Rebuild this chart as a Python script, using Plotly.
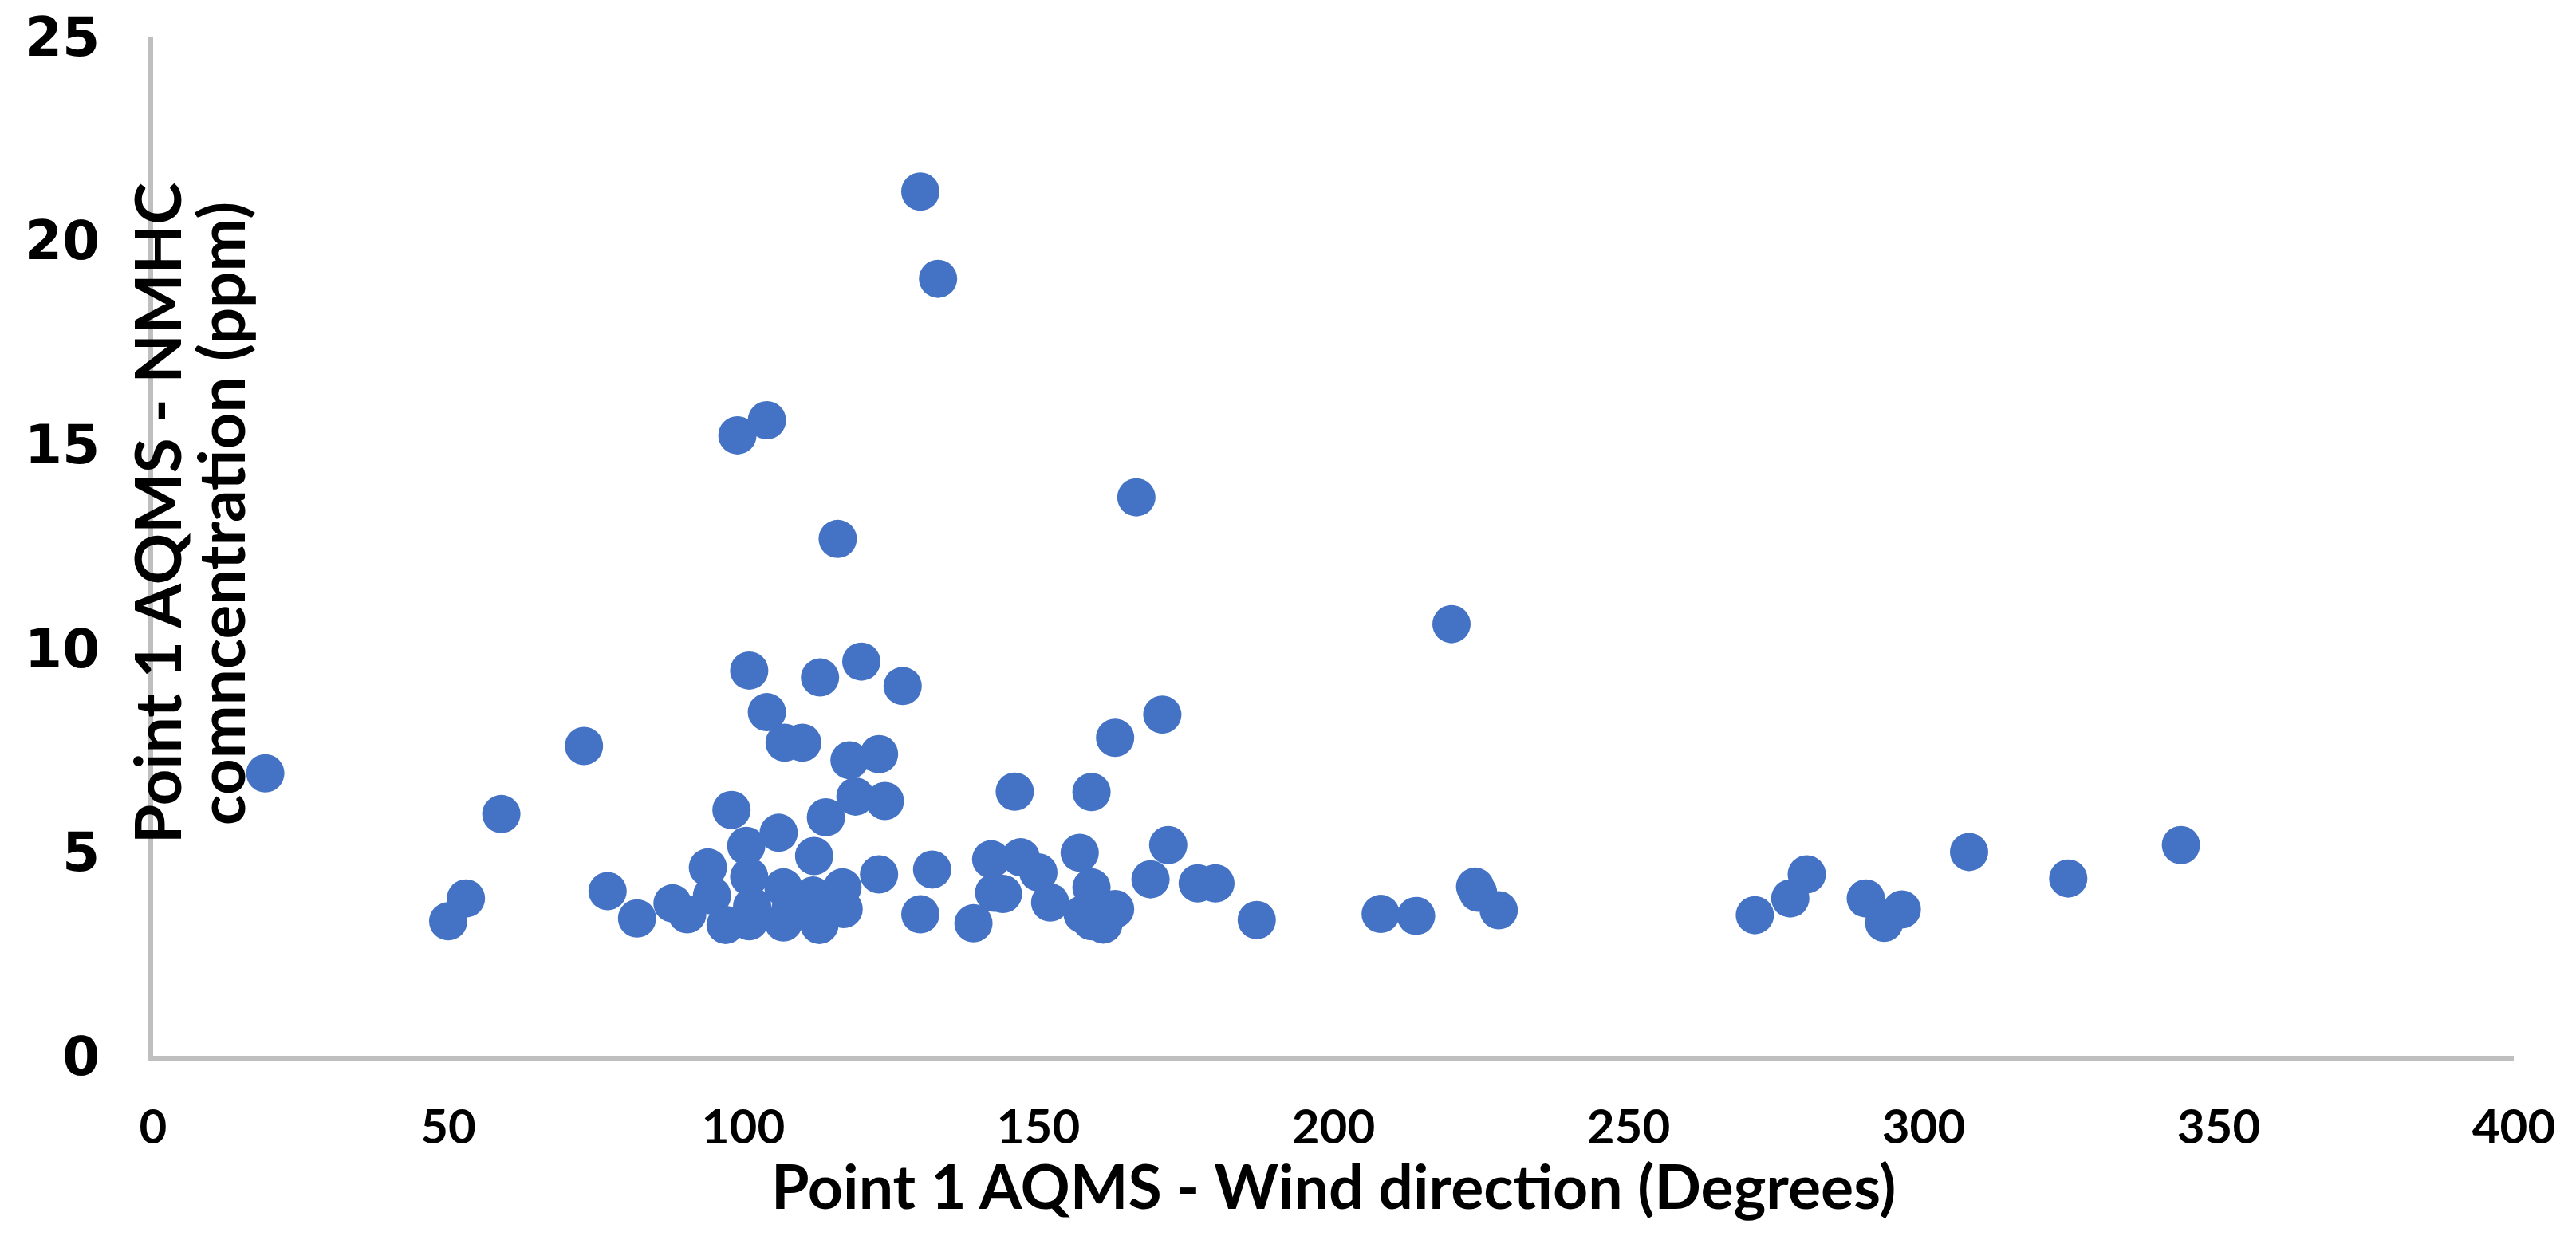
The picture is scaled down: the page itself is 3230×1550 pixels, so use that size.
import plotly.graph_objects as go

# Point 1 AQMS - wind direction (deg) vs NMHC (ppm)
wind_dir = [
    19, 50, 53, 59, 73, 77, 82, 88, 90.5, 94, 94.7, 97, 98, 99, 100.5,
    101, 101, 101, 101.5, 104, 104, 106, 106.8, 106.8, 107, 108, 110,
    111.8, 112, 112.9, 113, 114, 116, 116.8, 117, 118, 119, 120, 123,
    123, 124, 127, 130, 130, 132, 133, 139, 142, 142.5, 144, 146, 147,
    150, 152, 157, 157.5, 159, 159, 159, 161, 163, 163, 166.6, 169, 171,
    172, 177, 180, 187, 208, 214, 220, 224, 224.5, 228, 271.4, 277.4,
    280.2, 290.2, 293.3, 296.3, 307.7, 324.5, 343.6,
]
nmhc = [
    6.93, 3.30, 3.86, 5.93, 7.60, 4.04, 3.37, 3.74, 3.47, 4.62, 3.93, 3.21, 6.03, 15.22, 5.15,
    9.45, 3.30, 4.39, 3.67, 15.59, 8.43, 5.47, 4.13, 3.27, 7.68, 3.60, 7.68,
    3.93, 4.90, 3.21, 9.28, 5.85, 12.68, 4.13, 3.60, 7.25, 6.36, 9.67, 7.40,
    4.45, 6.25, 9.07, 21.2, 3.47, 4.57, 19.06, 3.25, 4.82, 4.0, 3.97, 6.48, 4.87,
    4.50, 3.76, 4.98, 3.47, 6.47, 4.13, 3.30, 3.22, 7.80, 3.60, 13.7, 4.33, 8.37,
    5.17, 4.23, 4.23, 3.33, 3.48, 3.43, 10.59, 4.15, 4.0, 3.57, 3.45, 3.86,
    4.45, 3.86, 3.26, 3.59, 5.0, 4.35, 5.17,
]

x_title = "Point 1 AQMS - Wind direction (Degrees)"
y_title_lines = ["Point 1 AQMS - NMHC", "comncentration (ppm)"]

fig = go.Figure(go.Scatter(
    x=wind_dir, y=nmhc, mode="markers",
    marker=dict(size=48, color="#4472C4", line=dict(width=0)),
    showlegend=False,
))

title_font = dict(family="Lato", size=80, color="black")

# page body has an 8px margin, so the margins are trimmed by that
fig.update_layout(
    width=3230, height=1550,
    margin=dict(l=184, r=86, t=38, b=234),
    plot_bgcolor="white", paper_bgcolor="white",
    xaxis=dict(
        range=[0, 400], dtick=50, showgrid=False, zeroline=False,
        showline=True, linecolor="#BFBFBF", linewidth=7,
        ticks="", ticklabelstandoff=31, automargin=False,
        tickfont=dict(family="Lato", size=60, color="black", weight="bold"),
    ),
    yaxis=dict(
        range=[0, 25], dtick=5, showgrid=False, zeroline=False,
        showline=True, linecolor="#BFBFBF", linewidth=7,
        ticks="", ticklabelstandoff=46, ticklabeloverflow="allow",
        automargin=False,
        tickfont=dict(family="DejaVu Sans", size=68, color="black", weight="bold"),
    ),
    annotations=[
        dict(text=f"<b>{x_title}</b>", xref="paper", yref="paper",
             x=0.5, y=-0.127, xanchor="center", yanchor="middle",
             showarrow=False, font=dict(family="Lato", size=77, color="black")),
        dict(text=f"<b>{y_title_lines[0]}</b>", xref="paper", yref="paper",
             x=0.0014, y=0.532, xanchor="center", yanchor="middle",
             showarrow=False, textangle=-90, font=title_font),
        dict(text=f"<b>{y_title_lines[1]}</b>", xref="paper", yref="paper",
             x=0.0284, y=0.532, xanchor="center", yanchor="middle",
             showarrow=False, textangle=-90, font=title_font),
    ],
)

fig.write_html("out.html")
